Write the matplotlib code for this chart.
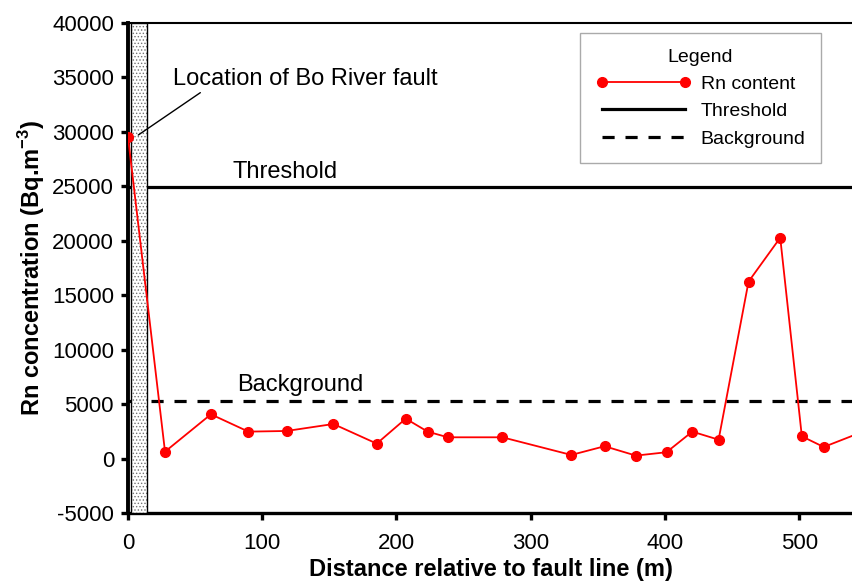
import matplotlib.pyplot as plt

plt.rcParams['font.family'] = ['Liberation Sans', 'DejaVu Sans']
plt.rcParams['mathtext.fontset'] = 'custom'
plt.rcParams['mathtext.rm'] = 'Liberation Sans'
plt.rcParams['mathtext.bf'] = 'Liberation Sans:bold'
plt.rcParams['axes.unicode_minus'] = False
plt.rcParams['hatch.linewidth'] = 0.6

# distance from fault (m) and Rn concentration (Bq/m3)
distance = [0, 27.6, 61.8, 89.7, 118.2, 153, 185.3, 206.9, 223.2, 238.2,
            278.9, 330.2, 355, 378.3, 401.1, 420.3, 439.9, 462.2, 485.8,
            501.9, 518.2, 556]
rn = [29550, 650, 4080, 2490, 2550, 3190, 1390, 3680, 2490, 1970,
      1970, 350, 1150, 290, 600, 2490, 1750, 16250, 20280,
      2060, 1080, 2900]

threshold = 24900
background = 5300
fault_zone = (2.5, 14)

fig = plt.figure(figsize=(8.53, 5.83), dpi=100)
ax = fig.add_axes([0.150, 0.1196, 0.850, 0.8414])

thr = ax.axhline(threshold, color='black', lw=2.3, zorder=2, label='Threshold')
bkg = ax.axhline(background, color='black', lw=2.3, ls=(0, (3.8, 3.4)),
                 zorder=2, label='Background')

# fault zone band (dotted fill + black border)
ax.axvspan(*fault_zone, facecolor='white', edgecolor='0.45', hatch='.....',
           lw=0, zorder=3)
ax.axvspan(*fault_zone, facecolor='none', edgecolor='black', lw=1.0, zorder=3)

rn_line, = ax.plot(distance, rn, color='red', lw=1.3, marker='o', ms=7,
                   zorder=4, label='Rn content')

ax.set_xlim(0, 540)
ax.set_ylim(-5000, 40000)
ax.set_xticks(range(0, 501, 100))
ax.set_yticks(range(-5000, 40001, 5000))

ax.spines['right'].set_visible(False)
ax.spines['left'].set_linewidth(2.8)
ax.spines['bottom'].set_linewidth(2.4)
ax.spines['top'].set_linewidth(1.5)
ax.tick_params(axis='both', direction='out', length=5, width=2.4,
               labelsize=16, pad=5)
ax.tick_params(axis='x', pad=9)

ax.set_xlabel('Distance relative to fault line (m)', fontsize=17,
              fontweight='bold', labelpad=3)
ax.set_ylabel(r'Rn concentration (Bq.m$^{\mathbf{-3}}$)', fontsize=17,
              fontweight='bold', labelpad=4)

ax.annotate('Location of Bo River fault', xy=(7.7, 29700),
            xytext=(33.3, 34850), fontsize=17, va='center', ha='left',
            arrowprops=dict(arrowstyle='-', color='black', lw=1.0,
                            shrinkA=0, shrinkB=0,
                            relpos=(0.12, 0.0)))
ax.text(117, 26300, 'Threshold', fontsize=17, ha='center', va='center')
ax.text(128.5, 6780, 'Background', fontsize=17, ha='center', va='center')

leg = ax.legend(handles=[rn_line, thr, bkg], loc='upper right',
                bbox_to_anchor=(0.956, 0.979),
                title='Legend', fontsize=14, title_fontsize=14,
                numpoints=2, handlelength=4.9, handletextpad=0.5,
                fancybox=False, edgecolor='#aaaaaa', framealpha=1,
                borderpad=0.8, labelspacing=0.5, borderaxespad=0)
leg.get_frame().set_linewidth(1.0)

fig.savefig('out.png', dpi=100)
